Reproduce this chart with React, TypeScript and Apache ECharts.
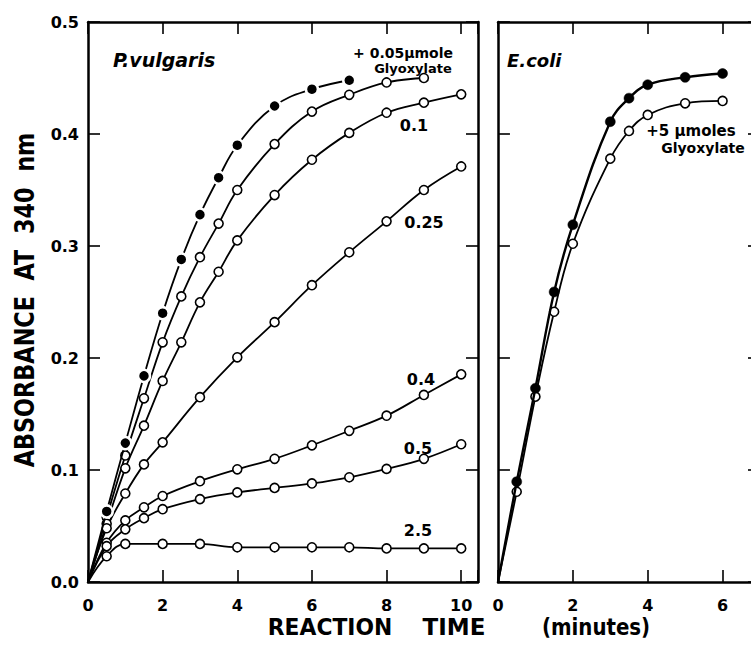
import React, { useEffect, useRef } from 'react';
import * as echarts from 'echarts';

// ---- P. vulgaris panel (minutes, absorbance at 340 nm) ----
const pvControlT = [0, 0.5, 1, 1.5, 2, 2.5, 3, 3.5, 4, 5, 6, 7];
const pvControlA = [0, 0.063, 0.124, 0.184, 0.240, 0.288, 0.328, 0.361, 0.390, 0.425, 0.440, 0.448];

const pv005T = [0, 0.5, 1, 1.5, 2, 2.5, 3, 3.5, 4, 5, 6, 7, 8, 9];
const pv005A = [0, 0.058, 0.113, 0.164, 0.214, 0.255, 0.290, 0.320, 0.350, 0.391, 0.420, 0.435, 0.446, 0.450];

const pv01T = [0, 0.5, 1, 1.5, 2, 2.5, 3, 3.5, 4, 5, 6, 7, 8, 9, 10];
const pv01A = [0, 0.052, 0.1015, 0.1396, 0.1795, 0.214, 0.2497, 0.277, 0.305, 0.3455, 0.377, 0.401, 0.419, 0.428, 0.4354];

const pv025T = [0, 0.5, 1, 1.5, 2, 3, 4, 5, 6, 7, 8, 9, 10];
const pv025A = [0, 0.048, 0.079, 0.105, 0.1247, 0.165, 0.2006, 0.232, 0.265, 0.2944, 0.322, 0.350, 0.371];

const pv04T = [0, 0.5, 1, 1.5, 2, 3, 4, 5, 6, 7, 8, 9, 10];
const pv04A = [0, 0.035, 0.055, 0.0667, 0.0768, 0.090, 0.1006, 0.110, 0.122, 0.135, 0.1485, 0.167, 0.1854];

const pv05T = [0, 0.5, 1, 1.5, 2, 3, 4, 5, 6, 7, 8, 9, 10];
const pv05A = [0, 0.032, 0.047, 0.057, 0.065, 0.074, 0.080, 0.084, 0.088, 0.0935, 0.101, 0.110, 0.123];

const pv25T = [0, 0.5, 1, 2, 3, 4, 5, 6, 7, 8, 9, 10];
const pv25A = [0, 0.023, 0.034, 0.034, 0.034, 0.031, 0.031, 0.031, 0.031, 0.030, 0.030, 0.030];

// ---- E. coli panel ----
const ecControlT = [0, 0.5, 1, 1.5, 2, 3, 3.5, 4, 5, 6];
const ecControlA = [0, 0.0896, 0.173, 0.259, 0.319, 0.411, 0.432, 0.444, 0.4506, 0.454];

const ec5T = [0, 0.5, 1, 1.5, 2, 3, 3.5, 4, 5, 6];
const ec5A = [0, 0.0806, 0.1655, 0.2413, 0.302, 0.378, 0.4027, 0.417, 0.4274, 0.4295];

// ---- axis ticks / labels ----
const yTicks = [0, 0.1, 0.2, 0.3, 0.4, 0.5];
const pvXTicks = [0, 2, 4, 6, 8, 10];
const ecXTicks = [0, 2, 4, 6];

const FONT = 'DejaVu Sans';

function pts(t: number[], a: number[]) {
  return t.map((x, i) => (i === 0 ? { value: [x, a[i]], symbol: 'none' } : [x, a[i]]));
}

function App() {
  const ref = useRef<HTMLDivElement>(null);

  useEffect(() => {
    const chart = echarts.init(ref.current!, null, { renderer: 'svg' });
    const axisLine = { show: true, onZero: false, lineStyle: { color: '#000', width: 2.5 } };
    const tick = { show: true, inside: true, length: 12, lineStyle: { color: '#000', width: 1.6 } };
    const labelBase = { color: '#000', fontFamily: FONT, fontWeight: 'bold' as const, fontSize: 16 };

    const xLabelFmt = (ticks: number[]) => (v: number) => {
      const r = Math.round(v);
      return Math.abs(v - r) < 1e-6 && ticks.includes(r) ? String(r) : '';
    };
    const yLabelFmt = (v: number) => {
      const hit = yTicks.find((t) => Math.abs(t - v) < 1e-6);
      return hit === undefined ? '' : hit.toFixed(1);
    };

    const xAx = (grid: number, max: number, pos: 'top' | 'bottom', ticks: number[]) => ({
      type: 'value', gridIndex: grid, min: 0, max, interval: 2, position: pos,
      axisLine, axisTick: tick, splitLine: { show: false },
      axisLabel: pos === 'bottom'
        ? { ...labelBase, margin: 15, formatter: xLabelFmt(ticks), showMaxLabel: true }
        : { show: false },
    });
    const yAx = (grid: number, pos: 'left' | 'right', labels: boolean) => ({
      type: 'value', gridIndex: grid, min: 0, max: 0.5, interval: 0.1, position: pos,
      axisLine, axisTick: tick, splitLine: { show: false },
      axisLabel: labels ? { ...labelBase, margin: 9, formatter: yLabelFmt } : { show: false },
    });

    const open = (name: string, t: number[], a: number[], xi: number, yi: number) => ({
      name, type: 'line', xAxisIndex: xi, yAxisIndex: yi, data: pts(t, a),
      smooth: 0.4, symbol: 'circle', symbolSize: 9, z: 3,
      lineStyle: { color: '#000', width: 1.8 },
      itemStyle: { color: '#fff', borderColor: '#000', borderWidth: 1.6 },
    });
    const filled = (name: string, t: number[], a: number[], xi: number, yi: number, gap: boolean) => ({
      name, type: 'line', xAxisIndex: xi, yAxisIndex: yi, data: pts(t, a),
      smooth: 0.4, symbol: 'circle', symbolSize: gap ? 12 : 10, z: 4,
      lineStyle: { color: '#000', width: gap ? 1.8 : 2.4 },
      itemStyle: { color: '#000', borderColor: gap ? '#fff' : '#000', borderWidth: gap ? 2.5 : 0.5 },
    });

    const txt = (text: string, x: number, y: number, size: number, extra: any = {}) => ({
      type: 'text', x, y, z: 100, ...extra.el,
      style: {
        text, fill: '#000', fontFamily: FONT, fontWeight: 'bold', fontSize: size,
        align: 'center', textAlign: 'center', verticalAlign: 'middle', textVerticalAlign: 'middle',
        ...extra.style,
      },
    });

    chart.setOption({
      animation: false,
      backgroundColor: '#fff',
      grid: [
        { left: 88, top: 22, width: 390, height: 560 },
        { left: 498, top: 22, width: 262, height: 560 },
      ],
      xAxis: [
        xAx(0, 10.45, 'bottom', pvXTicks),
        xAx(0, 10.45, 'top', pvXTicks),
        xAx(1, 7, 'bottom', ecXTicks),
        xAx(1, 7, 'top', ecXTicks),
      ],
      yAxis: [
        yAx(0, 'left', true),
        yAx(0, 'right', false),
        yAx(1, 'left', false),
        yAx(1, 'right', false),
      ],
      series: [
        filled('P. vulgaris control', pvControlT, pvControlA, 0, 0, true),
        open('+0.05 µmole glyoxylate', pv005T, pv005A, 0, 0),
        open('0.1', pv01T, pv01A, 0, 0),
        open('0.25', pv025T, pv025A, 0, 0),
        open('0.4', pv04T, pv04A, 0, 0),
        open('0.5', pv05T, pv05A, 0, 0),
        open('2.5', pv25T, pv25A, 0, 0),
        filled('E. coli control', ecControlT, ecControlA, 2, 2, false),
        open('+5 µmoles glyoxylate', ec5T, ec5A, 2, 2),
      ],
      graphic: [
        txt('ABSORBANCE  AT  340  nm', 25, 300, 26, { el: { rotation: Math.PI / 2, scaleX: 0.86 } }),
        txt('REACTION', 330, 627, 23, { el: { scaleX: 0.95 } }),
        txt('TIME', 454, 627, 23),
        txt('(minutes)', 596, 627, 23, { el: { scaleX: 0.86 } }),
        txt('P.vulgaris', 113, 60, 19, { style: { fontStyle: 'italic', align: 'left', textAlign: 'left' } }),
        txt('E.coli', 507, 60, 18, { style: { fontStyle: 'italic', align: 'left', textAlign: 'left' } }),
        txt('+ 0.05µmole', 403, 53, 14),
        txt('Glyoxylate', 413, 68, 13),
        txt('0.1', 414, 125, 16),
        txt('0.25', 424, 222, 16),
        txt('0.4', 421, 379, 16),
        txt('0.5', 418, 448, 16),
        txt('2.5', 418, 530, 16),
        txt('+5 µmoles', 691, 131, 15),
        txt('Glyoxylate', 703, 148, 14),
      ],
    });
    return () => chart.dispose();
  }, []);

  return (
    <div style={{ position: 'fixed', left: 0, top: 0, width: 751, height: 652, overflow: 'hidden', background: '#fff' }}>
      <div ref={ref} style={{ width: 775, height: 652 }} />
    </div>
  );
}

export default App;
